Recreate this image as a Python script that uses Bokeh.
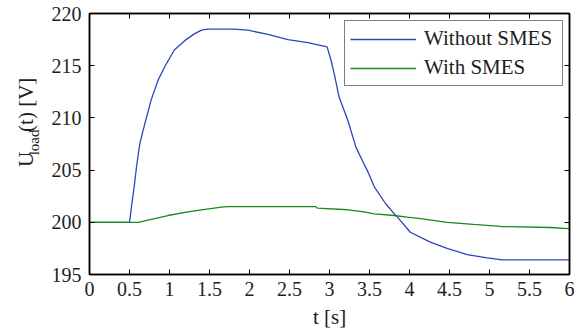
import math
from bokeh.plotting import figure
from bokeh.layouts import row
from bokeh.models import (Range1d, LinearAxis, FixedTicker, Label, Legend, LegendItem)
from bokeh.embed import file_html
from bokeh.resources import INLINE

# ---- data ----
t_without = [0.0, 0.50, 0.53, 0.56, 0.586, 0.628, 0.69, 0.77, 0.857, 0.94, 1.06, 1.19, 1.31,
             1.40, 1.48, 1.81, 1.98, 2.23, 2.48, 2.73, 2.97, 3.02, 3.06, 3.12, 3.23, 3.33,
             3.43, 3.47, 3.56, 3.70, 3.81, 3.85, 4.01, 4.26, 4.47, 4.72, 4.97, 5.16, 6.0]
u_without = [200.0, 200.0, 201.8, 203.5, 205.2, 207.5, 209.4, 211.7, 213.6, 214.9, 216.5, 217.4, 218.05,
             218.4, 218.5, 218.5, 218.4, 218.0, 217.5, 217.2, 216.8, 215.5, 214.2, 212.0, 209.75, 207.2,
             205.6, 205.0, 203.4, 201.8, 200.8, 200.5, 199.05, 198.1, 197.5, 196.9, 196.6, 196.4, 196.4]

t_with = [0.0, 0.61, 0.98, 1.23, 1.40, 1.65, 1.73, 2.83, 2.85, 3.23, 3.43, 3.56, 3.81,
          3.97, 4.14, 4.47, 4.80, 5.14, 5.76, 5.98, 6.0]
u_with = [200.0, 200.0, 200.65, 201.0, 201.2, 201.45, 201.5, 201.5, 201.35, 201.2, 201.0, 200.8, 200.65,
          200.5, 200.35, 200.0, 199.8, 199.6, 199.5, 199.4, 199.4]

x_ticks = [0, 0.5, 1, 1.5, 2, 2.5, 3, 3.5, 4, 4.5, 5, 5.5, 6]
x_tick_labels = ["0", "0.5", "1", "1.5", "2", "2.5", "3", "3.5", "4", "4.5", "5", "5.5", "6"]
y_ticks = [195, 200, 205, 210, 215, 220]

series_names = ["Without SMES", "With SMES"]
series_colors = ["#2a46b8", "#178a17"]
x_label = "t [s]"
y_label_parts = ["U", "load", "(t) [V]"]

FONT = "Liberation Serif"
TXT = "#1e1e1e"

W, H = 579, 335
LEFT_W = 48

# ---- main plot ----
p = figure(width=W - LEFT_W, height=H, output_backend="svg", toolbar_location=None,
           x_range=Range1d(0, 6), y_range=Range1d(195, 220),
           min_border_left=40, min_border_right=10, min_border_top=13, min_border_bottom=61)
p.xgrid.visible = False
p.ygrid.visible = False
p.outline_line_color = "black"
p.outline_line_width = 1.5
p.background_fill_color = "white"
p.border_fill_color = "white"

r1 = p.line(t_without, u_without, line_color=series_colors[0], line_width=1.3)
r2 = p.line(t_with, u_with, line_color=series_colors[1], line_width=1.3)


def style_axis(ax):
    ax.axis_line_color = "black"
    ax.axis_line_width = 1.5
    ax.major_tick_in = 5
    ax.major_tick_out = 0
    ax.major_tick_line_color = "black"
    ax.major_tick_line_width = 1
    ax.minor_tick_line_color = None
    ax.major_label_text_font = FONT
    ax.major_label_text_font_size = "20px"
    ax.major_label_text_color = TXT


p.xaxis.ticker = FixedTicker(ticks=x_ticks)
p.xaxis.major_label_overrides = {float(k): v for k, v in zip(x_ticks, x_tick_labels)}
p.yaxis.ticker = FixedTicker(ticks=y_ticks)
style_axis(p.xaxis[0])
style_axis(p.yaxis[0])
p.xaxis.major_label_standoff = 7
p.yaxis.major_label_standoff = 8
p.xaxis.axis_label = x_label
p.xaxis.axis_label_text_font = FONT
p.xaxis.axis_label_text_font_size = "21px"
p.xaxis.axis_label_text_font_style = "normal"
p.xaxis.axis_label_text_color = TXT
p.xaxis.axis_label_standoff = 6

# mirrored tick marks on top and right (no labels)
top_ax = LinearAxis(ticker=FixedTicker(ticks=x_ticks),
                    major_label_overrides={float(k): "" for k in x_ticks})
right_ax = LinearAxis(ticker=FixedTicker(ticks=y_ticks),
                      major_label_overrides={float(k): "" for k in y_ticks})
for ax in (top_ax, right_ax):
    style_axis(ax)
    ax.major_label_standoff = 0
    ax.major_label_text_font_size = "1px"
p.add_layout(top_ax, "above")
p.add_layout(right_ax, "right")

# legend
legend = Legend(items=[LegendItem(label=series_names[0], renderers=[r1]),
                       LegendItem(label=series_names[1], renderers=[r2])],
                location=(255, 188))
legend.label_text_font = FONT
legend.label_text_font_size = "21px"
legend.label_text_color = TXT
legend.glyph_width = 66
legend.glyph_height = 24
legend.label_height = 24
legend.label_width = 133
legend.label_standoff = 8
legend.spacing = 4
legend.padding = 5
legend.margin = 0
legend.border_line_color = "black"
legend.border_line_width = 1.5
legend.background_fill_alpha = 1.0
p.add_layout(legend)

# ---- left strip holding the y-axis label with subscript ----
lf = figure(width=LEFT_W, height=H, output_backend="svg", toolbar_location=None,
            x_range=Range1d(0, LEFT_W), y_range=Range1d(H, 0),
            min_border=0, x_axis_location=None, y_axis_location=None)
lf.xgrid.visible = False
lf.ygrid.visible = False
lf.outline_line_color = None
lf.background_fill_color = "white"
lf.border_fill_color = "white"

lab_kw = dict(angle=math.pi / 2, text_font=FONT, text_color=TXT,
              text_baseline="alphabetic", text_align="left")
lf.add_layout(Label(x=25.5, y=197, text=y_label_parts[0], text_font_size="21px", **lab_kw))
lf.add_layout(Label(x=33, y=182, text=y_label_parts[1], text_font_size="15px", **lab_kw))
lf.add_layout(Label(x=25.5, y=152, text=y_label_parts[2], text_font_size="21px", **lab_kw))

layout = row(lf, p, spacing=0)
open("out.html", "w").write(file_html(layout, INLINE))
